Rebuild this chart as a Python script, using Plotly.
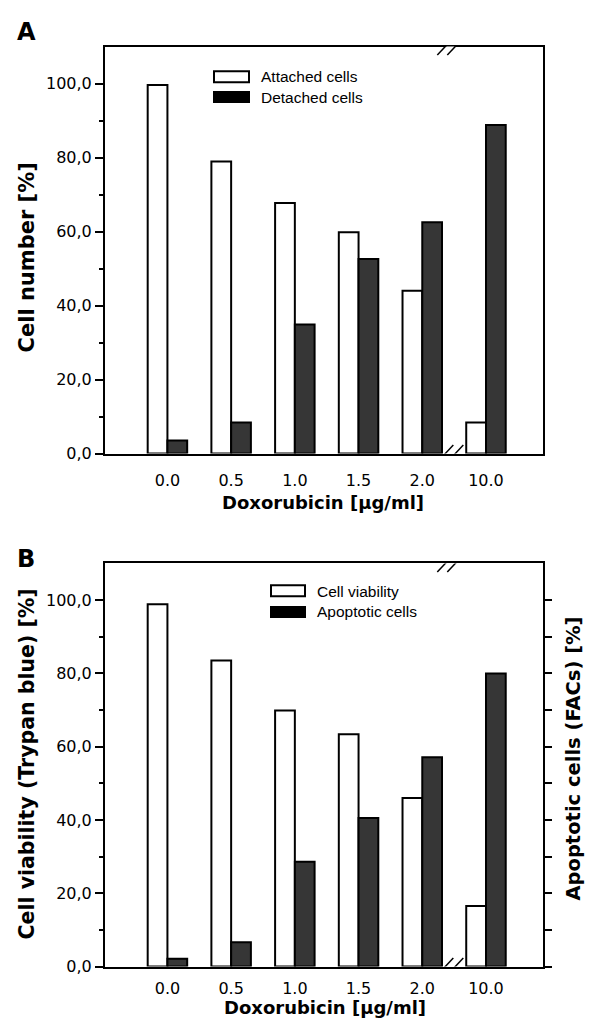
import plotly.graph_objects as go

# ---------------- data ----------------
doses = ["0.0", "0.5", "1.0", "1.5", "2.0", "10.0"]
attached = [99.6, 78.9, 67.7, 59.8, 44.0, 8.4]
detached = [3.5, 8.4, 34.9, 52.6, 62.5, 88.8]
viability = [98.9, 83.5, 69.9, 63.4, 46.0, 16.5]
apoptotic = [2.1, 6.6, 28.6, 40.5, 57.1, 80.0]
ytick_vals = [0, 20, 40, 60, 80, 100]
ytick_text = ["0,0", "20,0", "40,0", "60,0", "80,0", "100,0"]

W, H = 592, 1029
def px(x):
    return x / W
def py(y):
    return 1 - y / H

BOLD = "DejaVu Sans, Arial, sans-serif"
REG = "Liberation Sans, Arial, Helvetica, sans-serif"
DARK = "#363636"
xpos = list(range(len(doses)))
BW = 0.31

fig = go.Figure()
fig.add_trace(go.Bar(x=xpos, y=attached, width=BW, offset=-BW, xaxis="x", yaxis="y",
                     marker=dict(color="white", line=dict(color="black", width=2)), name="Attached cells"))
fig.add_trace(go.Bar(x=xpos, y=detached, width=BW, offset=0, xaxis="x", yaxis="y",
                     marker=dict(color=DARK, line=dict(color="black", width=2)), name="Detached cells"))
fig.add_trace(go.Bar(x=xpos, y=viability, width=BW, offset=-BW, xaxis="x2", yaxis="y2",
                     marker=dict(color="white", line=dict(color="black", width=2)), name="Cell viability"))
fig.add_trace(go.Bar(x=xpos, y=apoptotic, width=BW, offset=0, xaxis="x2", yaxis="y3",
                     marker=dict(color=DARK, line=dict(color="black", width=2)), name="Apoptotic cells"))

xdom = [px(105), px(543)]
xrng = [-0.98, 5.895]
ydomA = [py(458), py(47)]
ydomB = [py(976), py(569)]

common_x = dict(range=xrng, tickmode="array", tickvals=xpos, ticktext=doses, showline=True,
                linecolor="black", linewidth=2, mirror=True, ticks="", showgrid=False, zeroline=False,
                tickfont=dict(family=BOLD, size=16, color="black"), fixedrange=True)
common_y = dict(range=[0, 110], tickmode="array", tickvals=ytick_vals, ticktext=ytick_text,
                ticks="outside", ticklen=8, tickwidth=2, tickcolor="black", showline=True,
                linecolor="black", linewidth=2, showgrid=False, zeroline=False,
                tickfont=dict(family=BOLD, size=16, color="black"),
                minor=dict(tickmode="array", tickvals=[10, 30, 50, 70, 90], ticks="outside",
                           ticklen=4, tickwidth=2, tickcolor="black", showgrid=False))

fig.update_layout(
    width=W, height=H, margin=dict(l=0, r=0, t=0, b=0),
    paper_bgcolor="white", plot_bgcolor="white", showlegend=False, barmode="overlay",
    xaxis=dict(domain=xdom, anchor="y", ticklabelstandoff=11, **common_x),
    yaxis=dict(domain=ydomA, anchor="x", mirror=True, **common_y),
    xaxis2=dict(domain=xdom, anchor="y2", ticklabelstandoff=6, **common_x),
    yaxis2=dict(domain=ydomB, anchor="x2", mirror=False, **common_y),
    yaxis3=dict(domain=ydomB, anchor="x2", overlaying="y2", side="right", range=[0, 110],
                tickmode="array", tickvals=list(range(0, 101, 10)), ticks="outside", ticklen=7,
                tickwidth=2, tickcolor="black", showticklabels=False, showline=True,
                linecolor="black", linewidth=2, showgrid=False, zeroline=False),
)

# axis break marks
BRK = 4.44
shapes = []
for xr, yr, yanc in [("x", "y", 0), ("x", "y", 110), ("x2", "y2", 0), ("x2", "y2", 110)]:
    shapes.append(dict(type="line", xref=xr, yref=yr, xsizemode="pixel", ysizemode="pixel",
                       xanchor=BRK, yanchor=yanc, x0=-4, x1=4, y0=0, y1=0,
                       line=dict(color="white", width=4)))
    for c in (-5, 5):
        shapes.append(dict(type="line", xref=xr, yref=yr, xsizemode="pixel", ysizemode="pixel",
                           xanchor=BRK, yanchor=yanc, x0=c - 8, x1=c + 8, y0=-8.5, y1=8.5,
                           line=dict(color="black", width=1.5)))

# legends
def legend_box(x0, y0, x1, y1, fill):
    shapes.append(dict(type="rect", xref="paper", yref="paper", x0=px(x0), x1=px(x1),
                       y0=py(y1), y1=py(y0), fillcolor=fill, line=dict(color="black", width=2)))

legend_box(214, 72, 249, 83, "white")
legend_box(214, 93, 249, 103, "black")
legend_box(271, 591, 305, 602, "white")
legend_box(271, 613, 305, 623, "black")
fig.update_layout(shapes=shapes)

ann = []
def text(x, y, s, size, family, angle=0, xanchor="center"):
    ann.append(dict(x=px(x), y=py(y), xref="paper", yref="paper", text=s, showarrow=False,
                    xanchor=xanchor, yanchor="middle", textangle=angle,
                    font=dict(family=family, size=size, color="black")))

text(259, 77, "Attached cells", 15.5, REG, xanchor="left")
text(259, 98, "Detached cells", 15.5, REG, xanchor="left")
text(315, 597, "Cell viability", 15.5, REG, xanchor="left")
text(315, 618, "Apoptotic cells", 15.5, REG, xanchor="left")

text(26, 32, "<b>A</b>", 24, BOLD)
text(26, 564, "<b>B</b>", 24, BOLD)

text(323, 507, "<b>Doxorubicin [µg/ml]</b>", 18, BOLD)
text(325, 1017, "<b>Doxorubicin [µg/ml]</b>", 18, BOLD)
text(27, 260, "<b>Cell number [%]</b>", 21, BOLD, angle=-90)
text(27, 772, "<b>Cell viability (Trypan blue) [%]</b>", 20.5, BOLD, angle=-90)
text(574, 766, "<b>Apoptotic cells (FACs) [%]</b>", 19.5, BOLD, angle=-90)
fig.update_layout(annotations=ann)

page_js = (
    "var d=document.documentElement,b=document.body;"
    "d.style.margin='0';d.style.padding='0';d.style.overflow='hidden';"
    "b.style.margin='0';b.style.padding='0';b.style.overflow='hidden';"
)
fig.write_html("out.html", config={"displayModeBar": False}, post_script=page_js)
